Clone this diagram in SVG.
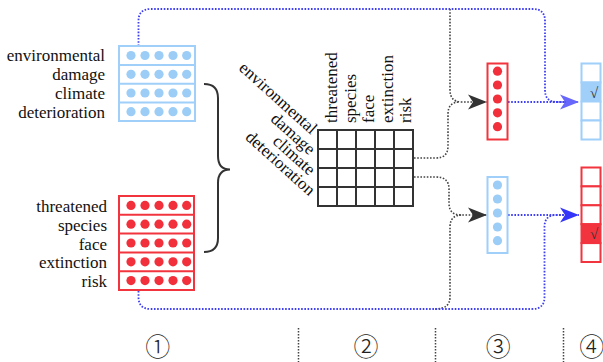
<svg xmlns="http://www.w3.org/2000/svg" width="603" height="362" viewBox="0 0 603 362">
<defs>
<style>
.lbl{font-family:"Liberation Serif","Times New Roman",serif;font-size:17px;fill:#111}
.num{font-family:"Noto Sans CJK SC","DejaVu Sans",sans-serif;font-size:25px;font-weight:300;fill:#222}
.chk{font-family:"Liberation Serif","DejaVu Serif",serif;font-size:15px;fill:#333}
.bbox{fill:#fff;stroke:#a0cff9;stroke-width:2}
.rbox{fill:#fff;stroke:#f2343f;stroke-width:2}
.bdot{fill:#9ccdf7}
.rdot{fill:#f2303c}
.grid{fill:none;stroke:#333;stroke-width:2}
.dk{fill:none;stroke:#444;stroke-width:1.6;stroke-dasharray:1.6 1.6}
.bl{fill:none;stroke:#3e3ef2;stroke-width:1.8;stroke-dasharray:1.6 1.6}
.div{fill:none;stroke:#444;stroke-width:1.5;stroke-dasharray:1.5 1.5}
</style>
<marker id="aDark" markerUnits="userSpaceOnUse" markerWidth="22" markerHeight="18" viewBox="-20 -9 22 18" refX="0" refY="0" orient="auto">
<path d="M0,0 L-19,-7.5 L-14,0 L-19,7.5 Z" fill="#333"/>
</marker>
<marker id="aBlueL" markerUnits="userSpaceOnUse" markerWidth="22" markerHeight="18" viewBox="-20 -9 22 18" refX="0" refY="0" orient="auto">
<path d="M0,0 L-19,-7.5 L-14,0 L-19,7.5 Z" fill="#6767fb"/>
</marker>
<marker id="aBlue" markerUnits="userSpaceOnUse" markerWidth="22" markerHeight="18" viewBox="-20 -9 22 18" refX="0" refY="0" orient="auto">
<path d="M0,0 L-19,-7.5 L-14,0 L-19,7.5 Z" fill="#3535fa"/>
</marker>
<g id="bdots"><circle class="bdot" cx="131" cy="0" r="4.6"/><circle class="bdot" cx="145" cy="0" r="4.6"/><circle class="bdot" cx="159" cy="0" r="4.6"/><circle class="bdot" cx="173" cy="0" r="4.6"/><circle class="bdot" cx="186.7" cy="0" r="4.6"/></g>
<g id="rdots"><circle class="rdot" cx="131" cy="0" r="4.6"/><circle class="rdot" cx="145" cy="0" r="4.6"/><circle class="rdot" cx="159" cy="0" r="4.6"/><circle class="rdot" cx="173" cy="0" r="4.6"/><circle class="rdot" cx="186.7" cy="0" r="4.6"/></g>
</defs>
<rect width="603" height="362" fill="#fff"/>

<g id="connectors">
<path class="dk" d="M450,9 V90 Q450,102 462,102 H487" marker-end="url(#aDark)"/>
<path class="dk" d="M414,158 H436 Q448,158 448,146 V114 Q448,102 460,102"/>
<path class="dk" d="M414,177 H436 Q449,177 449,189 V203 Q449,215 461,215 H487" marker-end="url(#aDark)"/>
<path class="dk" d="M435,309 Q450,309 450,297 V227 Q450,215 462,215"/>
<path class="bl" d="M138.5,46 V21 Q138.5,9 150.5,9 H533 Q545,9 545,21 V90 Q545,102 557,102 H579" marker-end="url(#aBlueL)"/>
<path class="bl" d="M508,102 H566"/>
<path class="bl" d="M138.5,291 V297 Q138.5,309 150.5,309 H532 Q544.5,309 544.5,297 V227 Q544.5,215 556.5,215 H579" marker-end="url(#aBlue)"/>
<path class="bl" d="M508,215 H566"/>
<path d="M204,84 Q218,84 218,98 V156 Q218,169.5 230,169.5 Q218,169.5 218,183 V238 Q218,252 204,252" fill="none" stroke="#333" stroke-width="2"/>
</g>

<g id="input-env">
<rect class="bbox" x="119" y="46" width="76" height="75"/>
<line x1="119" y1="65" x2="195" y2="65" stroke="#a0cff9" stroke-width="2"/>
<line x1="119" y1="83.7" x2="195" y2="83.7" stroke="#a0cff9" stroke-width="2"/>
<line x1="119" y1="102.4" x2="195" y2="102.4" stroke="#a0cff9" stroke-width="2"/>
<use href="#bdots" y="55.5"/><use href="#bdots" y="74.3"/><use href="#bdots" y="93"/><use href="#bdots" y="111.7"/>
<text class="lbl" x="105" y="61" text-anchor="end">environmental</text>
<text class="lbl" x="105" y="80" text-anchor="end">damage</text>
<text class="lbl" x="105" y="98.7" text-anchor="end">climate</text>
<text class="lbl" x="105" y="117.5" text-anchor="end">deterioration</text>
</g>

<g id="input-species">
<rect class="rbox" x="119" y="196" width="75" height="94"/>
<line x1="119" y1="214.8" x2="194" y2="214.8" stroke="#f2343f" stroke-width="2"/>
<line x1="119" y1="233.6" x2="194" y2="233.6" stroke="#f2343f" stroke-width="2"/>
<line x1="119" y1="252.4" x2="194" y2="252.4" stroke="#f2343f" stroke-width="2"/>
<line x1="119" y1="271.2" x2="194" y2="271.2" stroke="#f2343f" stroke-width="2"/>
<use href="#rdots" y="205.4"/><use href="#rdots" y="224.2"/><use href="#rdots" y="243"/><use href="#rdots" y="261.8"/><use href="#rdots" y="280.6"/>
<text class="lbl" x="107" y="212" text-anchor="end">threatened</text>
<text class="lbl" x="107" y="230.8" text-anchor="end">species</text>
<text class="lbl" x="107" y="249.6" text-anchor="end">face</text>
<text class="lbl" x="107" y="268.4" text-anchor="end">extinction</text>
<text class="lbl" x="107" y="287.2" text-anchor="end">risk</text>
</g>

<g id="matrix">
<rect class="grid" x="318" y="130" width="95" height="76"/>
<path class="grid" d="M337,130 V206 M356,130 V206 M375,130 V206 M394,130 V206 M318,149 H413 M318,168 H413 M318,187 H413"/>
<text class="lbl" transform="translate(337,123) rotate(-90)">threatened</text>
<text class="lbl" transform="translate(355.5,123) rotate(-90)">species</text>
<text class="lbl" transform="translate(374,123) rotate(-90)">face</text>
<text class="lbl" transform="translate(392.5,123) rotate(-90)">extinction</text>
<text class="lbl" transform="translate(411,123) rotate(-90)">risk</text>
<text class="lbl" text-anchor="end" transform="translate(311,135) rotate(42)">environmental</text>
<text class="lbl" text-anchor="end" transform="translate(309,155.5) rotate(42)">damage</text>
<text class="lbl" text-anchor="end" transform="translate(309,176) rotate(42)">climate</text>
<text class="lbl" text-anchor="end" transform="translate(309,196.5) rotate(42)">deterioration</text>
</g>

<g id="vec-red">
<rect class="rbox" x="487.5" y="63.5" width="20" height="76"/>
<circle class="rdot" cx="497.5" cy="71.2" r="4.6"/><circle class="rdot" cx="497.5" cy="85" r="4.6"/><circle class="rdot" cx="497.5" cy="99" r="4.6"/><circle class="rdot" cx="497.5" cy="112.8" r="4.6"/><circle class="rdot" cx="497.5" cy="126.7" r="4.6"/>
</g>

<g id="vec-blue">
<rect class="bbox" x="487.5" y="177" width="20" height="76"/>
<circle class="bdot" cx="497.5" cy="185" r="4.6"/><circle class="bdot" cx="497.5" cy="199" r="4.6"/><circle class="bdot" cx="497.5" cy="213" r="4.6"/><circle class="bdot" cx="497.5" cy="227" r="4.6"/><circle class="bdot" cx="497.5" cy="240.7" r="4.6"/>
</g>

<g id="out-blue">
<rect class="bbox" x="581.5" y="63.5" width="19" height="19"/>
<rect class="bbox" x="581.5" y="82.5" width="19" height="19" style="fill:#a0cff9"/>
<rect class="bbox" x="581.5" y="101.5" width="19" height="19"/>
<rect class="bbox" x="581.5" y="120.5" width="19" height="19"/>
<text class="chk" x="594" y="97.5" text-anchor="middle">√</text>
</g>

<g id="out-red">
<rect class="rbox" x="581.5" y="167.5" width="19" height="18.9"/>
<rect class="rbox" x="581.5" y="186.4" width="19" height="18.9"/>
<rect class="rbox" x="581.5" y="205.3" width="19" height="18.9"/>
<rect class="rbox" x="581.5" y="224.2" width="19" height="18.9" style="fill:#f2343f"/>
<rect class="rbox" x="581.5" y="243.1" width="19" height="18.9"/>
<text class="chk" x="594" y="239" text-anchor="middle">√</text>
</g>

<g id="stages">
<path class="div" d="M298.5,328 V362 M435.5,328 V362 M563.5,328 V362"/>
<text class="num" x="157.7" y="345" text-anchor="middle" dominant-baseline="central">①</text>
<text class="num" x="366" y="345" text-anchor="middle" dominant-baseline="central">②</text>
<text class="num" x="498.3" y="345" text-anchor="middle" dominant-baseline="central">③</text>
<text class="num" x="591.7" y="345" text-anchor="middle" dominant-baseline="central">④</text>
</g>
</svg>
